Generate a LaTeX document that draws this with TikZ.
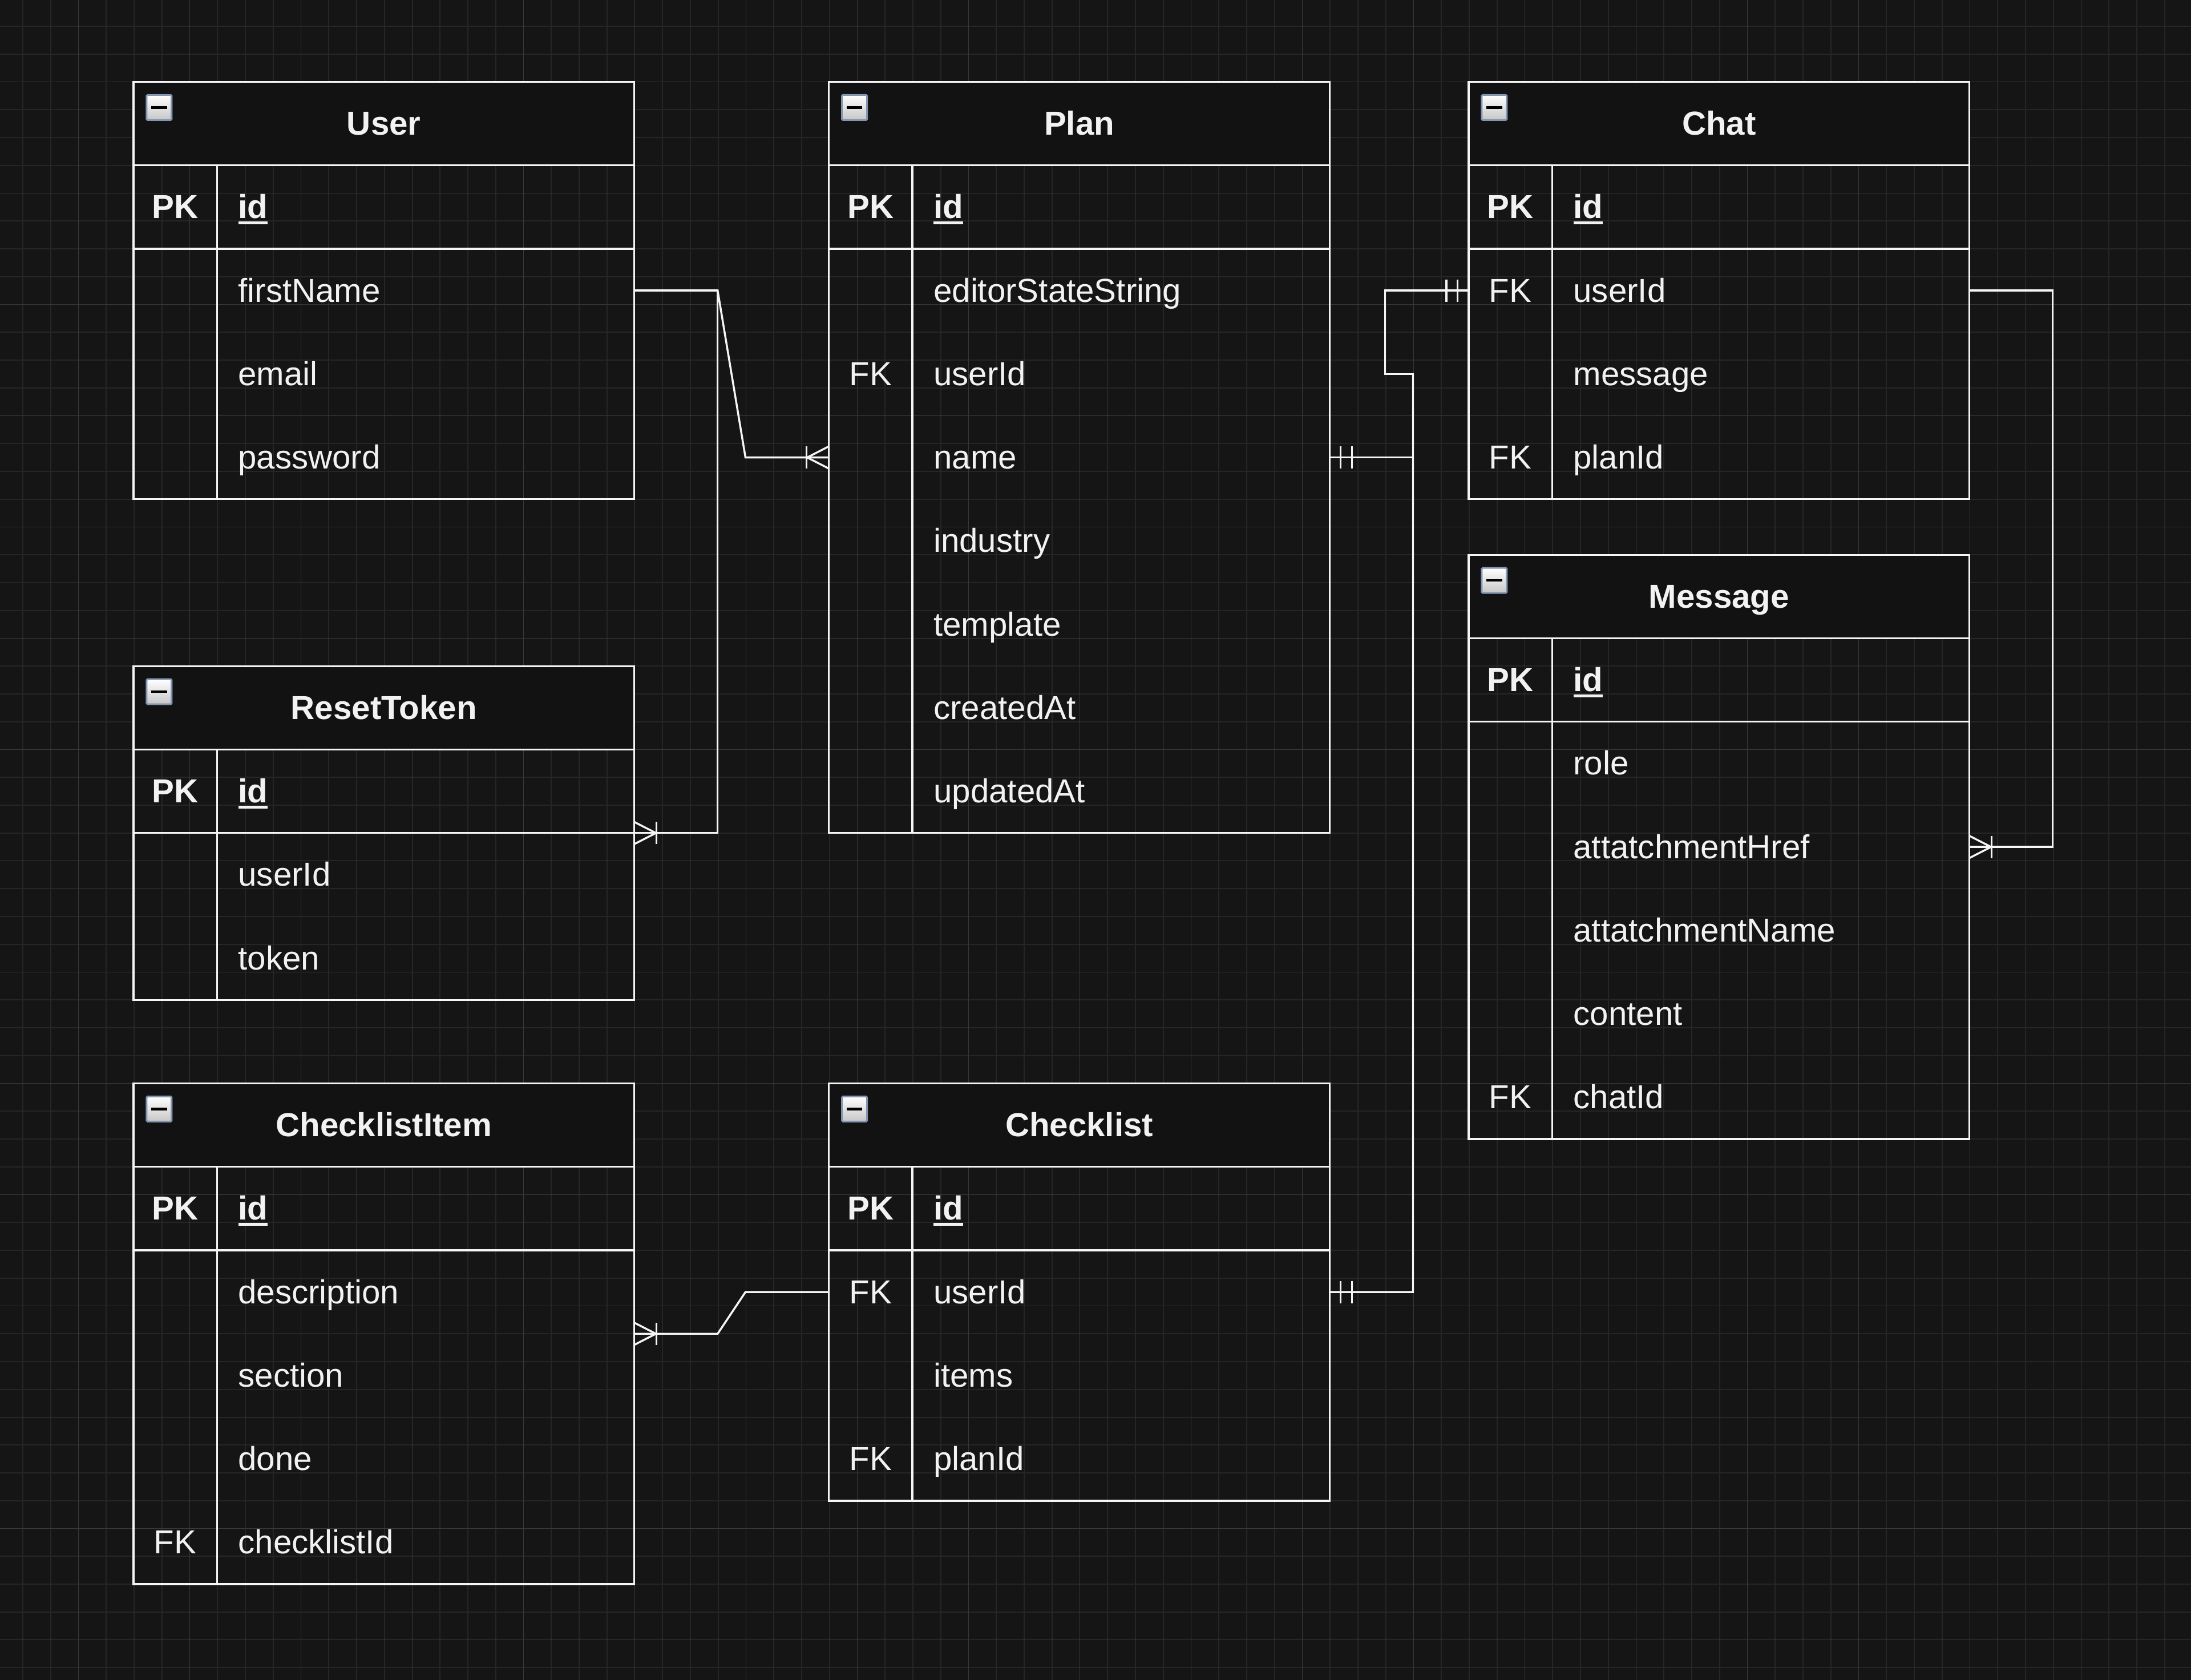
\documentclass[tikz,border=0pt]{standalone}
\usepackage{fontspec}
\setmainfont{Liberation Sans}
\usetikzlibrary{calc}
\definecolor{bgc}{HTML}{151515}
\definecolor{minorc}{HTML}{262626}
\definecolor{majorc}{HTML}{383838}
\definecolor{headc}{HTML}{121212}
\definecolor{linec}{HTML}{F5F5F5}
\definecolor{textc}{HTML}{F2F2F2}
\definecolor{iconborder}{HTML}{8394B0}
\newcommand\keyul[1]{\setbox0\hbox{#1}\rlap{\rule[-2.9pt]{\wd0}{1.45pt}}\box0}
\newcommand\ertable[6]{%
  \pgfmathsetmacro\ertabh{1.5*(#5+2)}%
  \node[headbox] (#1-head) at (#2,#3) {};
  \node[tablebox, minimum height=\ertabh cm] (#1) at (#2,#3) {};
  \node[minusbox] (#1-minus) at ($(#1-head.north west)+(0.46cm,-0.46cm)$) {};
  \draw[icondash] ([xshift=-0.14cm]#1-minus.center) -- ([xshift=0.14cm]#1-minus.center);
  \node[titletext] (#1-title) at ([yshift=-0.205cm]#1-head.center) {#4};
  \node[rowbox] (#1-id) at (#1-head.south west) {};
  \node[keytext] (#1-id-k) at ([xshift=0.75cm,yshift=-0.205cm]#1-id.west) {\bfseries PK};
  \node[fieldtext] (#1-id-t) at ([xshift=1.875cm,yshift=-0.205cm]#1-id.west) {\bfseries\keyul{id}};
  \draw[tline] (#1-id.south west) -- (#1-id.south east);
  \draw[tline] ([xshift=1.5cm]#1-id.north west) -- ([xshift=1.5cm]#1.south west);
  \foreach \k/\f [count=\i] in {#6} {
    \node[rowbox] (#1-\f) at ([yshift={-1.5cm*\i}]#1-id.north west) {};
    \node[keytext] (#1-\f-k) at ([xshift=0.75cm,yshift=-0.205cm]#1-\f.west) {\k};
    \node[fieldtext] (#1-\f-t) at ([xshift=1.875cm,yshift=-0.205cm]#1-\f.west) {\f};
  }
}
\tikzset{
  crowfoot/.pic={\draw[conn] (-0.8,-0.4) -- (-0.8,0.4); \draw[conn] (0,-0.4) -- (-0.78,0) -- (0,0.4);},
  onebars/.pic={\draw[conn] (-0.4,-0.4) -- (-0.4,0.4); \draw[conn] (-0.8,-0.4) -- (-0.8,0.4);},
}
\begin{document}
\begin{tikzpicture}[x=0.5cm,y=-0.5cm,
  minor/.style={draw=minorc, line width=0.5pt},
  major/.style={draw=majorc, line width=0.55pt},
  headbox/.style={draw=linec, line width=1pt, fill=headc, anchor=north west, minimum width=9cm, minimum height=1.5cm, inner sep=0, outer sep=0},
  tablebox/.style={draw=linec, line width=1pt, anchor=north west, minimum width=9cm, inner sep=0, outer sep=0},
  rowbox/.style={anchor=north west, minimum width=9cm, minimum height=1.5cm, inner sep=0, outer sep=0},
  minusbox/.style={draw=iconborder, line width=0.9pt, top color=white, bottom color=black!22, minimum size=0.45cm, inner sep=0, rounded corners=0.5pt},
  icondash/.style={draw=black, line width=1.3pt},
  tline/.style={draw=linec, line width=1pt},
  conn/.style={draw=linec, line width=1pt, line join=miter},
  titletext/.style={font=\fontsize{17pt}{20pt}\selectfont\bfseries, text=textc, anchor=base, inner sep=0},
  keytext/.style={font=\fontsize{17pt}{20pt}\selectfont, text=textc, anchor=base, inner sep=0},
  fieldtext/.style={font=\fontsize{17pt}{20pt}\selectfont, text=textc, anchor=base west, inner sep=0},
]
\fill[bgc] (0,0) rectangle (78.77,60.39);
\useasboundingbox (0,0) rectangle (78.77,60.39);
\foreach \i in {0,...,77} {\draw[minor] ({0.82+\i},0) -- ({0.82+\i},60.39);}
\foreach \j in {0,...,59} {\draw[minor] (0,{0.944+\j}) -- (78.77,{0.944+\j});}
\foreach \i in {0,...,18} {\draw[major] ({2.82+4*\i},0) -- ({2.82+4*\i},60.39);}
\foreach \j in {0,...,14} {\draw[major] (0,{2.944+4*\j}) -- (78.77,{2.944+4*\j});}
\begin{scope}[shift={(4.80,2.944)}]
\ertable{user}{0}{0}{User}{3}{/firstName,/email,/password}
\ertable{plan}{25}{0}{Plan}{7}{/editorStateString,FK/userId,/name,/industry,/template,/createdAt,/updatedAt}
\ertable{chat}{48}{0}{Chat}{3}{FK/userId,/message,FK/planId}
\ertable{message}{48}{17}{Message}{5}{/role,/attatchmentHref,/attatchmentName,/content,FK/chatId}
\ertable{resettoken}{0}{21}{ResetToken}{2}{/userId,/token}
\ertable{checklistitem}{0}{36}{ChecklistItem}{4}{/description,/section,/done,FK/checklistId}
\ertable{checklist}{25}{36}{Checklist}{3}{FK/userId,/items,FK/planId}
% User -> Plan
\draw[conn] (user-firstName.east) -- ++(3,0) -- ($(plan-name.west)+(-3,0)$) -- (plan-name.west);
\pic at (plan-name.west) {crowfoot};
% User -> ResetToken
\draw[conn] (user-firstName.east) -- ++(3,0) |- (resettoken-id.south east);
\pic[xscale=-1] at (resettoken-id.south east) {crowfoot};
% Chat -> Plan
\draw[conn] (chat-userId.west) -- ++(-3,0) -- ++(0,3) -- ++(1,0) |- (plan-name.east);
\pic at (chat-userId.west) {onebars};
\pic[xscale=-1] at (plan-name.east) {onebars};
% Checklist -> Chat
\draw[conn] (checklist-userId.east) -- ++(3,0) -- ($(chat-userId.west)+(-2,3)$);
\pic[xscale=-1] at (checklist-userId.east) {onebars};
% Chat -> Message
\draw[conn] (chat-userId.east) -- ++(3,0) |- (message-attatchmentHref.east);
\pic[xscale=-1] at (message-attatchmentHref.east) {crowfoot};
% Checklist -> ChecklistItem
\draw[conn] (checklist-userId.west) -- ++(-3,0) -- ($(checklistitem-description.south east)+(3,0)$) -- (checklistitem-description.south east);
\pic[xscale=-1] at (checklistitem-description.south east) {crowfoot};
\end{scope}
\end{tikzpicture}
\end{document}
